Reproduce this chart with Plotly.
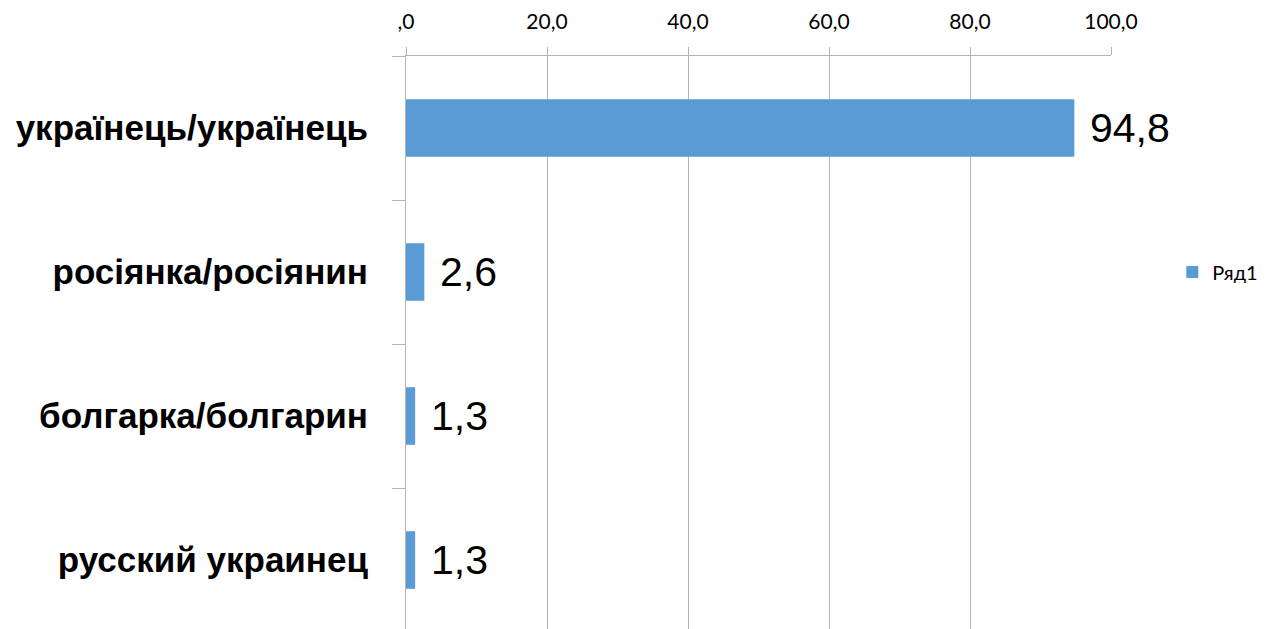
import plotly.graph_objects as go

# Categories (top to bottom) and their shares, %
categories = ["українець/українець", "росіянка/росіянин", "болгарка/болгарин", "русский украинец"]
values = [94.8, 2.6, 1.3, 1.3]
series_name = "Ряд1"

x_ticks = [0, 20, 40, 60, 80, 100]
x_tick_labels = [",0", "20,0", "40,0", "60,0", "80,0", "100,0"]

bar_color = "#5b9bd5"
grid_color = "#b3b3b3"
sans = "Liberation Sans, Arial, sans-serif"
light = "Lato, Open Sans, sans-serif"

fig = go.Figure()
fig.add_trace(go.Bar(
    x=values,
    y=categories,
    orientation="h",
    name=series_name,
    marker=dict(color=bar_color, line=dict(width=0)),
    width=0.4,
    showlegend=True,
))

# Value labels to the right of each bar
for v, c in zip(values, categories):
    fig.add_annotation(
        x=v, y=c, xref="x", yref="y",
        text=f"{v:.1f}".replace(".", ","),
        showarrow=False, xanchor="left", yanchor="middle",
        xshift=14,
        font=dict(family=sans, size=41, color="#000000"),
    )

fig.update_layout(
    width=1269, height=629,
    margin=dict(l=406, r=158, t=56, b=0),
    paper_bgcolor="white", plot_bgcolor="white",
    bargap=0.6,
    legend=dict(
        x=1.087, y=0.623, xanchor="left", yanchor="middle",
        font=dict(family=light, size=20, color="#000000"),
        bgcolor="rgba(0,0,0,0)",
    ),
    xaxis=dict(
        side="top",
        range=[0, 100],
        tickvals=x_ticks, ticktext=x_tick_labels,
        showgrid=True, gridcolor=grid_color, gridwidth=1,
        showline=True, linecolor=grid_color, linewidth=1,
        ticks="outside", ticklen=8, tickcolor=grid_color,
        ticklabelstandoff=10,
        tickfont=dict(family=light, size=21, color="#000000"),
        zeroline=False, fixedrange=True,
    ),
    yaxis=dict(
        type="category",
        range=[3.479, -0.5],
        showgrid=False,
        showline=True, linecolor=grid_color, linewidth=1,
        ticks="outside", ticklen=13, tickcolor=grid_color,
        tickson="boundaries",
        ticklabelstandoff=30,
        tickfont=dict(family=sans, size=35, color="#000000", weight="bold"),
        fixedrange=True,
    ),
)

fig.write_html("out.html")
